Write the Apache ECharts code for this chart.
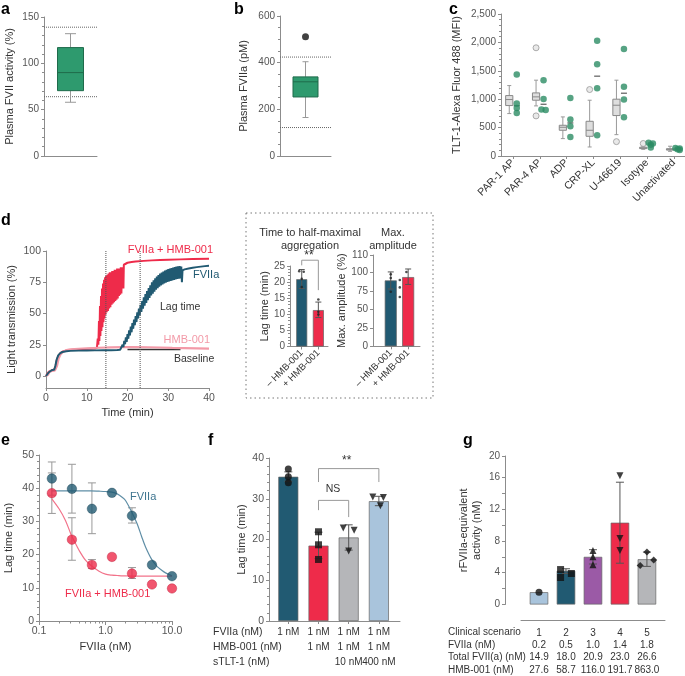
<!DOCTYPE html>
<html><head><meta charset="utf-8">
<script src="https://cdn.jsdelivr.net/npm/echarts@6/dist/echarts.min.js"></script>
<style>html,body{margin:0;padding:0;background:#fff}#c{width:685px;height:676px}</style>
</head><body><div id="c"></div>
<script>
// ---------------- DATA ----------------
// a
const aBox = [58, 70.5, 90, 117, 132];          // min, q1, median, q3, max
const aRefLines = [139, 64];
// b
const bBox = [165, 253, 318, 339, 404];
const bOutliers = [511];
const bRefLines = [424, 122];
// c
const cCategories = ['PAR-1 AP','PAR-4 AP','ADP','CRP-XL','U-46619','Isotype','Unactivated'];
const cBoxes = [[747,888,994,1064,1240],[882,982,1041,1111,1335],[306,453,506,541,688],[159,347,453,611,982],[376,712,894,1000,1335],[118,130,141,155,172],[82,104,118,128,172]];
const cOutliers = [[1,1905],[1,706],[3,1170],[4,253],[5,220]];
const cDots = [[1435,923,847,758],[1335,1005,817,811],[1023,641,523,335],[2029,1617,1194,365],[1882,1217,994,682],[232,220,200,150],[140,130,118,106]];
// d
const dLagTimes = [14.7, 23.1];
const dRed = [[0,0],[0.4,0.3],[0.7,3.5],[1.0,4.8],[1.5,4.6],[2.0,5.2],[2.3,7],[2.6,12],[3.0,16],[3.5,18.2],[4,19.4],[5,20.4],[6,20.9],[8,21.4],[10,21.7],[12,22],[12.5,22.5],
 [12.7,30],[12.85,25],[13.0,44],[13.1,28],[13.25,56],[13.35,32],[13.5,64],[13.6,36],[13.75,70],[13.85,39],[14.0,74],[14.1,43],[14.25,77],[14.35,46],[14.5,79],[14.6,49],[14.75,80],[14.9,51],[15.05,81],[15.2,52],[15.35,82],[15.5,54],[15.65,83],[15.8,55],[15.95,83],[16.1,57],[16.25,84],[16.4,58],[16.55,84],[16.7,59],[16.85,85],[17.0,60],[17.15,85],[17.3,61],[17.45,86],[17.6,62],[17.75,86],[17.9,64],[18.05,86],[18.2,65],[18.35,87],[18.5,66],[18.65,87],[18.8,70],[18.95,86],[19.0,70],[19.1,89],[19.3,90],
 [20,90.6],[21,91.2],[22,91.6],[24,92.1],[26,92.5],[28,92.8],[30,93],[33,93.3],[36,93.6],[40,93.8]];
const dTeal = [[0,0],[0.4,0.5],[0.7,3],[1.0,4.5],[1.5,4.8],[2.0,5],[2.3,8],[2.6,13],[3.0,16.5],[3.5,18.3],[4,19.2],[5,19.8],[6,20.1],[8,20.3],[10,20.4],[12,20.5],[14,20.6],[16,20.6],[17.5,20.8],[18.2,21],[18.6,22.5],
 [18.8,25],[19.0,23],[19.2,28.2],[19.4,25.4],[19.6,31],[19.8,27.3],[20.0,33.5],[20.2,29.8],[20.4,36.5],[20.6,32.4],[20.8,39.6],[21.0,35],[21.2,42.4],[21.4,37.8],[21.6,45.2],[21.8,40.6],[22.0,48],[22.2,43.2],[22.4,51],[22.6,46],[22.8,54],[23.0,48.5],[23.2,57],[23.4,51.2],[23.6,60],[23.8,53.8],[24.0,63],[24.2,56.2],[24.4,65.5],[24.6,58.4],[24.8,68],[25.0,60.6],[25.2,70.4],[25.4,62.4],[25.6,72.6],[25.8,64.4],[26.0,75],[26.2,65.8],[26.4,76.6],[26.6,67.4],[26.8,78.2],[27.0,69],[27.2,79.6],[27.4,70.2],[27.6,80.8],[27.8,71.4],[28.0,82],[28.2,72.4],[28.4,82.8],[28.6,73.2],[28.8,83.6],[29.0,74],[29.2,84.3],[29.4,74.6],[29.6,84.9],[29.8,75.2],[30.0,85.5],[30.2,75.7],[30.4,85.9],[30.6,76.1],[30.8,86.3],[31.0,76.5],[31.2,86.7],[31.4,76.9],[31.6,87.1],[31.8,77.3],[32.0,87.5],[32.2,77.6],[32.4,87.7],[32.6,77.8],[32.8,87.9],[33.0,78],[33.2,87.5],[33.35,75],[33.5,84.5],
 [34,85.3],[35,86],[36,86.6],[37,87.1],[38,87.5],[39,87.9],[40,88.2]];
const dHMB = [[0,0],[0.5,1],[0.9,3.5],[1.5,4],[2.2,4.5],[2.7,8],[3.1,14],[3.6,17.5],[4.2,19.5],[5,20.7],[6,21.3],[8,21.8],[10,22.2],[13,22.6],[16,22.9],[19,23.1],[22,23.1],[25,23],[28,22.8],[31,22.5],[34,22.3],[37,22.1],[40,21.9]];
const dBaseline = [[20,21.3],[33,21.3]];
const dGroups = ['– HMB-001', '+ HMB-001'];
const dLagMeans = [20.9, 11.3];
const dLagErr = [[18.0, 23.9],[9.0, 13.8]];
const dLagPts = [[23.4, 23.2, 21.0, 18.5],[14.6, 10.8, 9.9]];
const dAmpMeans = [89.5, 94];
const dAmpErr = [[77.8, 101],[84, 105]];
const dAmpPts = [[97.7, 92.8, 74],[101, 90, 80, 67]];
// e
const eConc = [0.156, 0.3125, 0.625, 1.25, 2.5, 5, 10];
const eFVIIa = [42.9, 39.8, 33.8, 38.6, 31.7, 16.9, 13.5];
const eFVIIaErr = [[37.9,47.9],[32.5,47.2],[26.3,41.6],null,[29.5,34.1],null,null];
const eCombo = [38.5, 24.5, 16.9, 19.3, 14.3, 11.0, 9.8];
const eComboErr = [[32.4,44.6],[18.3,31.1],[15.8,18.5],null,[12.8,16.1],null,null];
const eFitX = [0.156,0.2,0.25,0.3,0.35,0.4,0.5,0.6,0.8,1.0,1.25,1.5,1.8,2.0,2.5,3.0,3.5,4.0,5.0,6.0,7.0,8.0,10.0];
const eFVIIaFit = [39.2,39.2,39.2,39.2,39.2,39.2,39.2,39.2,39.1,39.0,38.8,38.3,37.2,36.3,32.7,29.2,25.4,22.3,18.4,16.4,15.3,14.5,13.6];
const eComboFit = [36.8,33.8,30.3,26.3,23.5,21.3,18.3,16.8,15.0,14.1,13.8,13.7,13.6,13.6,13.5,13.5,13.5,13.5,13.5,13.5,13.5,13.5,13.5];
const eTickLabels = ['0.1','1.0','10.0'];
// f
const fFVIIa = ['1 nM','1 nM','1 nM','1 nM'];
const fHMB = ['','1 nM','1 nM','1 nM'];
const fTLT = ['','','10 nM','400 nM'];
const fRowNames = ['FVIIa (nM)','HMB-001 (nM)','sTLT-1 (nM)'];
const fValues = [35.4, 18.5, 20.5, 29.4];
const fErr = [[34.3,36.6],[15.3,21.8],[17.4,23.6],[28.3,30.6]];
const fPoints = [[37.3,35.4,33.9],[21.9,18.7,15.1],[22.8,22.3,17.2],[30.4,30.3,28.3]];
// g
const gScenarios = ['1','2','3','4','5'];
const gFVIIa = ['0.2','0.5','1.0','1.4','1.8'];
const gTotal = ['14.9','18.0','20.9','23.0','26.6'];
const gHMB = ['27.6','58.7','116.0','191.7','863.0'];
const gRowNames = ['Clinical scenario','FVIIa (nM)','Total FVII(a) (nM)','HMB-001 (nM)'];
const gValues = [1.55, 4.25, 6.0, 10.3, 5.7];
const gErr = [null,[3.9,4.5],[5.1,6.9],[5.2,15.4],[4.8,6.6]];
const gPoints = [[1.55],[4.4,3.4,3.9],[6.8,6.0,5.0],[16.2,8.3,6.8],[6.6,5.6,4.9]];

// ---------------- STYLE / LAYOUT ----------------
const FONT = '"Liberation Sans", Arial, sans-serif';
const TEAL = '#215a72', RED = '#ee2b4a', PINK = '#f39aa8', GREEN = '#2e9a6e', GREEN_D = '#1f6b4b';
const LBLUE = '#a9c4dc', GREY = '#b5b6b9', PURPLE = '#9b5aa6', AXC = '#8c8c8c';
const cDotJitter = [[0,0,0,0],[0,0,-0.08,0.08],[0,0,0,0],[0,0,0,0],[0,0,0,0],[-0.08,0.08,0,0],[-0.08,0.08,0,0.08]];
const dLagJit = [[-0.15,0.12,0,0],[0,0,0]];
const dAmpJit = [[0,0,0],[-0.1,-0.48,-0.48,-0.48]];
const fJit = [[0,0,0],[0,0,0],[-0.18,0.18,0],[-0.2,0.15,0.05]];
const fColors = [TEAL, RED, GREY, LBLUE];
const fSym = [['circle',0],['rect',0],['triangle',180],['triangle',180]];
const gJit = [[0],[-0.2,-0.2,0.2],[0,0,0],[0,0,0],[0,0.25,-0.25]];
const gColors = [LBLUE, TEAL, PURPLE, RED, GREY];
const gSym = [['circle',0],['rect',0],['triangle',0],['triangle',180],['diamond',0]];
const fRowY = [632.3, 647.1, 661.9];

function merge(a, b) {
  const o = Object.assign({}, a);
  for (const k in b) {
    if (b[k] && typeof b[k] === 'object' && !Array.isArray(b[k]) && a[k] && typeof a[k] === 'object') o[k] = merge(a[k], b[k]);
    else o[k] = b[k];
  }
  return o;
}
const AX = {
  type: 'value',
  axisLine: {show: true, onZero: false, lineStyle: {color: AXC, width: 1}},
  axisTick: {show: true, length: 3, lineStyle: {color: AXC}},
  axisLabel: {color: '#555', fontSize: 10, fontFamily: FONT, margin: 5, hideOverlap: false, showMinLabel: true, showMaxLabel: true},
  splitLine: {show: false},
  nameLocation: 'middle',
  nameTextStyle: {color: '#333', fontSize: 11, fontFamily: FONT}
};
const MINOR = (n) => ({show: true, splitNumber: n, length: 2, lineStyle: {color: AXC}});
const ax = (o) => merge(AX, o);
const G = (left, top, width, height) => ({left, top, width, height, outerBoundsMode: 'none', containLabel: false});

const grids = [
  G(44, 17, 53, 139),      // 0 a
  G(280, 16, 51, 140),     // 1 b
  G(501, 14, 184, 142),    // 2 c
  G(46, 251, 163, 137),    // 3 d
  G(290, 266, 38, 80.5),   // 4 d inset lag
  G(373, 255, 47, 91.3),   // 5 d inset amp
  G(39, 455, 133, 166),    // 6 e
  G(269, 458, 131, 163),   // 7 f
  G(505, 456, 160, 148.5), // 8 g
  G(521, 600, 144, 20.7)   // 9 g table axis
];

const xAxes = [
  ax({gridIndex: 0, min: 0, max: 1, axisTick: {show: false}, axisLabel: {show: false}}),
  ax({gridIndex: 1, min: 0, max: 1, axisTick: {show: false}, axisLabel: {show: false}}),
  ax({gridIndex: 2, min: -0.448, max: 6.418,
      axisTick: {customValues: [0,1,2,3,4,5,6]},
      axisLabel: {customValues: [0,1,2,3,4,5,6], rotate: 45, fontSize: 10.5, color: '#333', margin: 5,
                  formatter: v => cCategories[Math.round(v)]}}),
  ax({gridIndex: 3, min: 0, max: 40, interval: 10, name: 'Time (min)', nameGap: 19, axisLabel: {fontSize: 10.5}}),
  ax({gridIndex: 4, min: -0.705, max: 1.58,
      axisTick: {customValues: [0,1]},
      axisLabel: {customValues: [0,1], rotate: 45, color: '#333', fontSize: 9.5, formatter: v => dGroups[Math.round(v)]}}),
  ax({gridIndex: 5, min: -1.02, max: 1.68,
      axisTick: {customValues: [0,1]},
      axisLabel: {customValues: [0,1], rotate: 45, color: '#333', fontSize: 9.5, formatter: v => dGroups[Math.round(v)]}}),
  ax({gridIndex: 6, type: 'log', logBase: 10, min: 0.1, max: 10, name: 'FVIIa (nM)', nameGap: 20,
      axisTick: {customValues: [0.1, 1, 10], length: 4},
      axisLabel: {customValues: [0.1, 1, 10], fontSize: 10.5, formatter: v => eTickLabels[Math.round(Math.log10(v)) + 1]}}),
  ax({gridIndex: 7, min: -0.64, max: 3.7,
      axisTick: {customValues: [0,1,2,3]},
      axisLabel: {show: false}}),
  ax({gridIndex: 8, min: -1.26, max: 4.67, show: false}),
  ax({gridIndex: 9, min: -0.667, max: 4.67, axisTick: {show: false},
      axisLabel: {customValues: [0,1,2,3,4], color: '#333', fontSize: 10, lineHeight: 12.4, margin: 6,
                  formatter: v => { const i = Math.round(v); return [gScenarios[i], gFVIIa[i], gTotal[i], gHMB[i]].join('\n'); }}}),
  ax({gridIndex: 6, type: 'log', logBase: 10, min: 0.1, max: 10, position: 'bottom', axisLine: {show: false}, axisLabel: {show: false},
      axisTick: {customValues: [0.2,0.3,0.4,0.5,0.6,0.7,0.8,0.9,2,3,4,5,6,7,8,9], length: 2.5}})
];

const yAxes = [
  ax({gridIndex: 0, min: 0, max: 150, interval: 50, minorTick: MINOR(5), name: 'Plasma FVII activity (%)', nameGap: 29}),
  ax({gridIndex: 1, min: 0, max: 600, interval: 200, minorTick: MINOR(4), name: 'Plasma FVIIa (pM)', nameGap: 31}),
  ax({gridIndex: 2, min: 0, max: 2500, interval: 500, minorTick: MINOR(5), name: 'TLT-1-Alexa Fluor 488 (MFI)', nameGap: 39,
      axisLabel: {formatter: v => v.toLocaleString('en-US')}}),
  ax({gridIndex: 3, min: -9.6, max: 100, name: 'Light transmission (%)', nameGap: 29,
      axisTick: {customValues: [0,25,50,75,100]}, axisLabel: {customValues: [0,25,50,75,100], fontSize: 10.5}}),
  ax({gridIndex: 4, min: 0, max: 25, interval: 5, minorTick: MINOR(5), name: 'Lag time (min)', nameGap: 19}),
  ax({gridIndex: 5, min: 0, max: 124, name: 'Max. amplitude (%)', nameGap: 19,
      axisTick: {customValues: [0,25,50,75,100,124]},
      axisLabel: {customValues: [0,25,50,75,100,124], formatter: v => (v > 110 ? '110' : String(v))}}),
  ax({gridIndex: 6, min: 0, max: 50, interval: 10, minorTick: MINOR(5), name: 'Lag time (min)', nameGap: 25, axisLabel: {fontSize: 10.5}}),
  ax({gridIndex: 7, min: 0, max: 40, interval: 10, minorTick: MINOR(5), name: 'Lag time (min)', nameGap: 22, axisLabel: {fontSize: 10.5}}),
  ax({gridIndex: 8, min: 0, max: 18.7, name: 'rFVIIa-equivalent\nactivity (nM)', nameGap: 22,
      nameTextStyle: {lineHeight: 13},
      axisTick: {customValues: [0,2,4,6,8,10,12,14,16,18.7]},
      axisLabel: {customValues: [0,4,8,12,16,18.7], formatter: v => (v > 17 ? '20' : String(v))}}),
  ax({gridIndex: 9, min: 0, max: 1, show: false})
];

// ---------------- RENDER HELPERS ----------------
function boxRender(halfW, capW, fill, stroke, whisk) {
  return function (params, api) {
    const x = api.value(0);
    const p = [1,2,3,4,5].map(k => api.coord([x, api.value(k)]));
    const cx = p[0][0];
    const ls = {stroke: whisk, lineWidth: 1};
    return {type: 'group', children: [
      {type: 'line', shape: {x1: cx, y1: p[0][1], x2: cx, y2: p[1][1]}, style: ls},
      {type: 'line', shape: {x1: cx, y1: p[3][1], x2: cx, y2: p[4][1]}, style: ls},
      {type: 'line', shape: {x1: cx - capW, y1: p[0][1], x2: cx + capW, y2: p[0][1]}, style: ls},
      {type: 'line', shape: {x1: cx - capW, y1: p[4][1], x2: cx + capW, y2: p[4][1]}, style: ls},
      {type: 'rect', shape: {x: cx - halfW, y: p[3][1], width: 2 * halfW, height: p[1][1] - p[3][1]}, style: {fill: fill, stroke: stroke, lineWidth: 1}},
      {type: 'line', shape: {x1: cx - halfW, y1: p[2][1], x2: cx + halfW, y2: p[2][1]}, style: {stroke: stroke, lineWidth: 1}}
    ]};
  };
}
function errRender(capW, color) {
  return function (params, api) {
    const x = api.value(0);
    const lo = api.coord([x, api.value(1)]), hi = api.coord([x, api.value(2)]);
    const st = {stroke: color, lineWidth: 1};
    return {type: 'group', children: [
      {type: 'line', shape: {x1: lo[0], y1: lo[1], x2: hi[0], y2: hi[1]}, style: st},
      {type: 'line', shape: {x1: lo[0] - capW, y1: lo[1], x2: lo[0] + capW, y2: lo[1]}, style: st},
      {type: 'line', shape: {x1: hi[0] - capW, y1: hi[1], x2: hi[0] + capW, y2: hi[1]}, style: st}
    ]};
  };
}
const errData = (xs, errs) => errs.map((e, i) => e ? [xs[i], e[0], e[1]] : null).filter(Boolean);
function errSeries(xi, data, capW, color, z) {
  return {type: 'custom', xAxisIndex: xi, yAxisIndex: xi, renderItem: errRender(capW, color), data: data, encode: {x: 0, y: [1, 2]}, clip: false, z: z || 3, silent: true};
}
function lineSeries(xi, data, color, width, type, z) {
  return {type: 'line', xAxisIndex: xi, yAxisIndex: xi, data: data, symbol: 'none', clip: false, z: z || 2, silent: true,
          lineStyle: {color: color, width: width, type: type || 'solid'}};
}
function scatterSeries(xi, data, z) {
  return {type: 'scatter', xAxisIndex: xi, yAxisIndex: xi, data: data, clip: false, z: z || 5, silent: true};
}
function barSeries(xi, values, colors, width) {
  return {type: 'bar', xAxisIndex: xi, yAxisIndex: xi, barWidth: width, silent: true, z: 2,
          data: values.map((v, i) => ({value: [i, v], itemStyle: {color: colors[i], borderColor: '#666', borderWidth: 0.7}}))};
}
function median(arr) { const s = arr.slice().sort((a, b) => a - b); const n = s.length; return n % 2 ? s[(n - 1) / 2] : (s[n / 2 - 1] + s[n / 2]) / 2; }

// ---------------- SERIES ----------------
const series = [];
// a
series.push({type: 'custom', xAxisIndex: 0, yAxisIndex: 0, renderItem: boxRender(13, 5.5, GREEN, GREEN_D, '#999'), data: [[0.5].concat(aBox)], encode: {x: 0, y: [1,2,3,4,5]}, clip: false, z: 3});
aRefLines.forEach(v => series.push(lineSeries(0, [[0, v], [1, v]], '#666', 1, 'dotted')));
// b
series.push({type: 'custom', xAxisIndex: 1, yAxisIndex: 1, renderItem: boxRender(12.5, 3, GREEN, GREEN_D, '#999'), data: [[0.5].concat(bBox)], encode: {x: 0, y: [1,2,3,4,5]}, clip: false, z: 3});
bRefLines.forEach(v => series.push(lineSeries(1, [[0, v], [1, v]], '#666', 1, 'dotted')));
series.push(merge(scatterSeries(1, bOutliers.map(v => [0.5, v])), {symbolSize: 7, itemStyle: {color: '#111'}}));
// c
series.push({type: 'custom', xAxisIndex: 2, yAxisIndex: 2, renderItem: boxRender(3.6, 2, '#dedede', '#888', '#999'),
             data: cBoxes.map((b, i) => [i - 0.14].concat(b)), encode: {x: 0, y: [1,2,3,4,5]}, clip: false, z: 3});
series.push(merge(scatterSeries(2, cOutliers.map(o => [o[0] - 0.14, o[1]])), {symbolSize: 6, itemStyle: {color: '#e4e4e4', borderColor: '#999', borderWidth: 1}}));
const cDotData = [];
cDots.forEach((arr, i) => arr.forEach((v, k) => cDotData.push([i + 0.14 + cDotJitter[i][k], v])));
series.push(merge(scatterSeries(2, cDotData), {symbolSize: 6.5, itemStyle: {color: '#2c8c64'}}));
series.push(merge(scatterSeries(2, cDots.map((arr, i) => [i + 0.14, median(arr)]), 4), {symbol: 'rect', symbolSize: [6, 1.2], itemStyle: {color: '#333'}}));
// d main
series.push(lineSeries(3, dBaseline, '#333', 1.5, 'solid', 2));
series.push(lineSeries(3, dRed, RED, 2, 'solid', 3));
series.push(lineSeries(3, dHMB, PINK, 2.2, 'solid', 4));
series.push(lineSeries(3, dTeal, TEAL, 2, 'solid', 5));
dLagTimes.forEach(t => series.push(lineSeries(3, [[t, -9.6], [t, 100]], '#555', 1, 'dotted', 6)));
// d inset lag
series.push(barSeries(4, dLagMeans, [TEAL, RED], 11));
series.push(errSeries(4, errData([0, 1], dLagErr), 3, '#555'));
const dLagPtData = [];
dLagPts.forEach((arr, i) => arr.forEach((v, k) => dLagPtData.push([i + dLagJit[i][k], v])));
series.push(merge(scatterSeries(4, dLagPtData), {symbolSize: 2.6, itemStyle: {color: '#222'}}));
series.push(lineSeries(4, [[0, 25.2], [0, 26.8], [1, 26.8], [1, 17.5]], '#999', 1, 'solid', 3));
// d inset amp
series.push(barSeries(5, dAmpMeans, [TEAL, RED], 12));
series.push(errSeries(5, errData([0, 1], dAmpErr), 3, '#555'));
const dAmpPtData = [];
dAmpPts.forEach((arr, i) => arr.forEach((v, k) => dAmpPtData.push([i + dAmpJit[i][k], v])));
series.push(merge(scatterSeries(5, dAmpPtData), {symbolSize: 2.6, itemStyle: {color: '#222'}}));
// e
series.push(errSeries(6, errData(eConc, eFVIIaErr), 4, '#999', 2));
series.push(errSeries(6, errData(eConc, eComboErr), 4, '#999', 2));
series.push(merge(lineSeries(6, eFitX.map((x, i) => [x, eFVIIaFit[i]]), '#5f8ea6', 1.2, 'solid', 3), {smooth: 0.3}));
series.push(merge(lineSeries(6, eFitX.map((x, i) => [x, eComboFit[i]]), '#f2738a', 1.2, 'solid', 3), {smooth: 0.3}));
series.push(merge(scatterSeries(6, eConc.map((x, i) => [x, eFVIIa[i]])), {symbolSize: 9.5, itemStyle: {color: TEAL, borderColor: '#163f51', borderWidth: 0.5}}));
series.push(merge(scatterSeries(6, eConc.map((x, i) => [x, eCombo[i]])), {symbolSize: 9.5, itemStyle: {color: RED, borderColor: '#b81c37', borderWidth: 0.5}}));
// f
series.push(barSeries(7, fValues, fColors, 20));
series.push(errSeries(7, errData([0,1,2,3], fErr), 4, '#555'));
const fPtData = [];
fPoints.forEach((arr, i) => arr.forEach((v, k) => fPtData.push({value: [i + fJit[i][k], v], symbol: fSym[i][0], symbolRotate: fSym[i][1]})));
series.push(merge(scatterSeries(7, fPtData), {symbolSize: 7, itemStyle: {color: '#111'}}));
series.push(lineSeries(7, [[1, 27.2], [1, 29.6], [2, 29.6], [2, 25.5]], '#999', 1, 'solid', 3));
series.push(lineSeries(7, [[1, 34.1], [1, 37.4], [3, 37.4], [3, 34.1]], '#999', 1, 'solid', 3));
// g
series.push(barSeries(8, gValues, gColors, 18.5));
series.push(errSeries(8, errData([0,1,2,3,4], gErr), 4, '#555'));
const gPtData = [];
gPoints.forEach((arr, i) => arr.forEach((v, k) => gPtData.push({value: [i + gJit[i][k], v], symbol: gSym[i][0], symbolRotate: gSym[i][1]})));
series.push(merge(scatterSeries(8, gPtData), {symbolSize: 7, itemStyle: {color: '#111'}}));

// ---------------- GRAPHIC (panel letters, annotations) ----------------
const txt = (x, y, text, o) => ({type: 'text', x: x, y: y, silent: true, z: 100,
  style: Object.assign({text: text, fill: '#333', font: '11px ' + FONT, align: 'left', verticalAlign: 'middle'}, o || {})});
const letter = (x, y, t) => txt(x, y, t, {fill: '#000', font: 'bold 16px ' + FONT, verticalAlign: 'top'});
const graphic = [
  letter(1, 2, 'a'), letter(234, 2, 'b'), letter(449, 2, 'c'), letter(1, 213, 'd'),
  letter(1, 433, 'e'), letter(208, 433, 'f'), letter(463, 433, 'g'),
  {type: 'rect', silent: true, z: 1, shape: {x: 246, y: 213, width: 187, height: 185},
   style: {fill: 'none', stroke: '#777', lineWidth: 1, lineDash: [1.5, 3]}},
  txt(310, 233, 'Time to half-maximal', {align: 'center'}),
  txt(310, 246, 'aggregation', {align: 'center'}),
  txt(393, 233, 'Max.', {align: 'center'}),
  txt(393, 246, 'amplitude', {align: 'center'}),
  txt(309, 256, '**', {align: 'center', font: '12px ' + FONT}),
  txt(213, 250, 'FVIIa + HMB-001', {align: 'right', fill: RED}),
  txt(193, 275, 'FVIIa', {fill: TEAL}),
  txt(160, 307, 'Lag time', {fill: '#333', font: '10.5px ' + FONT}),
  txt(210, 340, 'HMB-001', {align: 'right', fill: PINK}),
  txt(174, 359, 'Baseline', {fill: '#333', font: '10.5px ' + FONT}),
  txt(130, 497, 'FVIIa', {fill: '#3f7590'}),
  txt(65, 594, 'FVIIa + HMB-001', {fill: RED}),
  txt(333, 489, 'NS', {align: 'center', font: '10.5px ' + FONT}),
  txt(346.7, 461, '**', {align: 'center', font: '12px ' + FONT})
];
fRowNames.forEach((n, i) => graphic.push(txt(213, fRowY[i], n, {font: '10.5px ' + FONT})));
gRowNames.forEach((n, i) => graphic.push(txt(448, 632.7 + i * 12.4, n, {font: '10px ' + FONT})));

const chart = echarts.init(document.getElementById('c'), null, {renderer: 'canvas'});
chart.setOption({
  animation: false,
  backgroundColor: '#fff',
  textStyle: {fontFamily: FONT},
  grid: grids,
  xAxis: xAxes,
  yAxis: yAxes,
  series: series,
  graphic: graphic
});

// f condition table: column positions come from panel f's x axis scale
const fRows = [fFVIIa, fHMB, fTLT];
fValues.forEach((_, i) => {
  const px = chart.convertToPixel({xAxisIndex: 7}, i);
  fRows.forEach((row, r) => {
    if (row[i]) graphic.push(txt(px, fRowY[r], row[i], {align: 'center', font: '10px ' + FONT}));
  });
});
chart.setOption({graphic: graphic});
</script>
</body></html>
